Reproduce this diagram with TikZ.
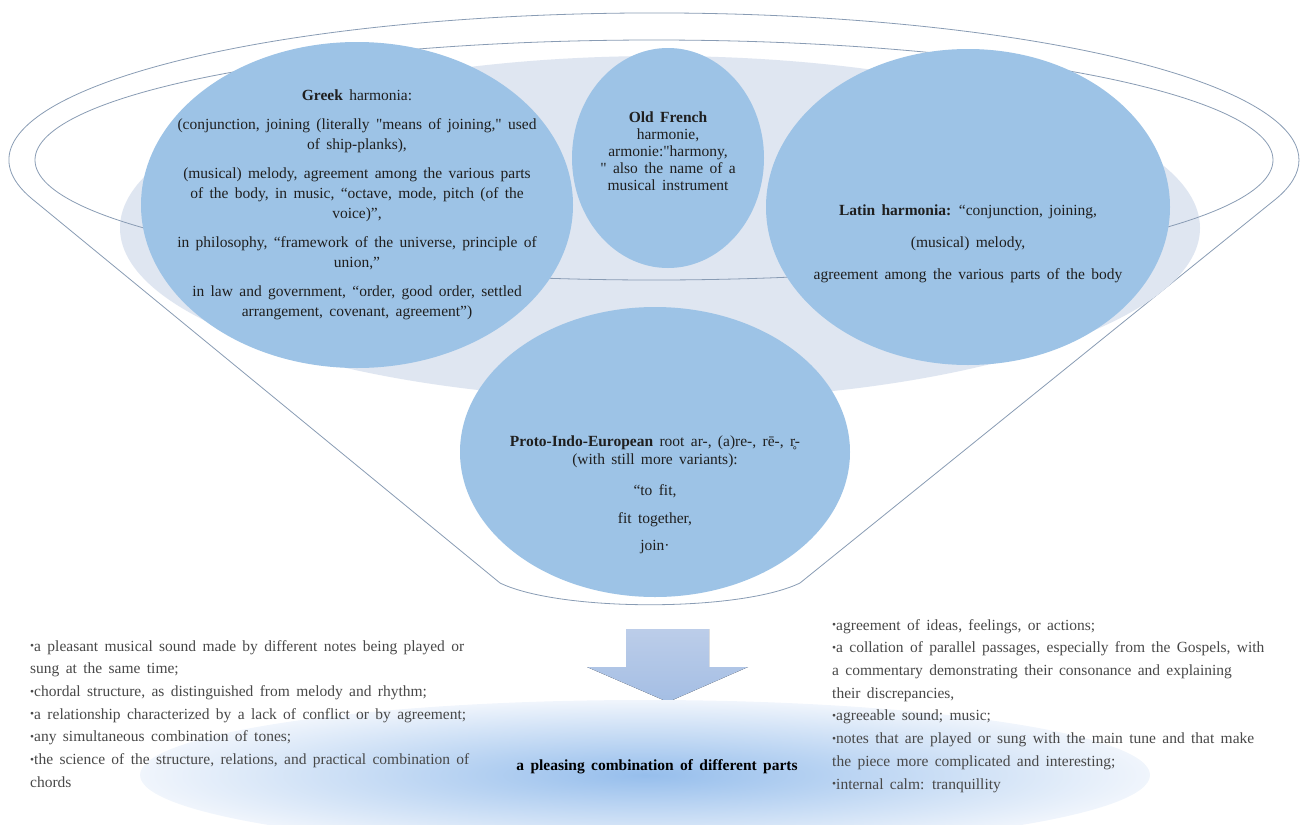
\documentclass[tikz,border=0pt]{standalone}
\usepackage{fontspec}
\setmainfont{Liberation Serif}[Ligatures=TeXOff]
\usetikzlibrary{shapes.geometric}

\definecolor{bubble}{RGB}{157,195,230}
\definecolor{funneltop}{RGB}{223,230,241}
\definecolor{rimline}{RGB}{137,156,180}
\definecolor{arrowtop}{RGB}{188,205,233}
\definecolor{arrowbot}{RGB}{164,190,228}
\definecolor{glowcore}{RGB}{150,190,236}
\definecolor{glowrim}{RGB}{240,245,252}
\definecolor{listtext}{RGB}{72,72,72}

% font size, line skip and the wide word spaces of the original
\newcommand\harmfont[2]{\fontsize{#1}{#2}\selectfont\spaceskip=0.41em plus 0.1em\relax}
\newcommand\itm{{\fontsize{11.5}{11.5}\selectfont\raisebox{1.5pt}{•}}}

\tikzset{
  bubble/.style={ellipse, fill=bubble, draw=none, inner sep=0pt},
  bubbletext/.style={align=center, text=black!88, inner sep=0pt},
  listnode/.style={align=left, anchor=north west, text=listtext, inner sep=0pt,
    font=\harmfont{15.5}{22.7}},
  rim/.style={draw=rimline, line width=0.8pt},
}

\begin{document}
\begin{tikzpicture}[x=1pt, y=-1pt]
  \useasboundingbox (0,0) rectangle (1302,825);

  % funnel body and rim
  \draw[rim, fill=white] (32.2,199) arc[start angle=195.4, end angle=-15.4, x radius=645pt, y radius=147pt]
    -- (800,583) .. controls (740,612) and (560,612) .. (500,583) -- cycle;
  \fill[funneltop] (660,228) ellipse[x radius=540pt, y radius=172pt];
  \draw[rim] (654,160) ellipse[x radius=619pt, y radius=120pt];

  % sources
  \node[bubble, minimum width=432pt, minimum height=326pt] (greek) at (357,205) {};
  \node[bubble, minimum width=404pt, minimum height=316pt] (latin) at (968,207) {};
  \node[bubble, minimum width=192pt, minimum height=220pt] (oldfrench) at (668,158) {};
  \node[bubble, minimum width=390pt, minimum height=290pt] (pie) at (655,452) {};

  \node[bubbletext, font=\harmfont{15.5}{20}] (greektext) at (greek.center) {%
    \textbf{Greek} harmonia:\\[9pt]
    (conjunction, joining (literally "means of joining," used\\
    of ship-planks),\\[9pt]
    (musical) melody, agreement among the various parts\\
    of the body, in music, “octave, mode, pitch (of the\\
    voice)”,\\[9pt]
    in philosophy, “framework of the universe, principle of\\
    union,”\\[9pt]
    in law and government, “order, good order, settled\\
    arrangement, covenant, agreement”)};
  \node[bubbletext, font=\harmfont{15.5}{17}, yshift=7pt] (oldfrenchtext) at (oldfrench.center) {%
    \textbf{Old French}\\
    harmonie,\\
    armonie:"harmony,\\
    " also the name of a\\
    musical instrument};
  \node[bubbletext, font=\harmfont{15.5}{18}, yshift=-37pt] (latintext) at (latin.center) {%
    \textbf{Latin harmonia:} “conjunction, joining,\\[14pt]
    (musical) melody,\\[14pt]
    agreement among the various parts of the body};
  \node[bubbletext, font=\harmfont{15.5}{18}, yshift=-43pt] (pietext) at (pie.center) {%
    \textbf{Proto-Indo-European} root ar-, (a)re-, rē-, r̥-\\
    (with still more variants):\\[13pt]
    “to fit,\\[10pt]
    fit together,\\[9pt]
    join·};

  % result
  \fill[top color=arrowtop, bottom color=arrowbot]
    (626,629) -- (709,629) -- (709,667) -- (748,667) -- (668,702) -- (587,667) -- (626,667) -- cycle;
  \node[ellipse, inner sep=0pt, minimum width=1010pt, minimum height=150pt,
    inner color=glowcore, outer color=glowrim] (glow) at (645,775) {};
  \node[font=\harmfont{15.5}{17}\bfseries, inner sep=0pt] (result) at (657,767)
    {a pleasing combination of different parts};

  \node[listnode] (leftlist) at (30,640) {%
    \itm a pleasant musical sound made by different notes being played or\\
    sung at the same time;\\
    \itm chordal structure, as distinguished from melody and rhythm;\\
    \itm a relationship characterized by a lack of conflict or by agreement;\\
    \itm any simultaneous combination of tones;\\
    \itm the science of the structure, relations, and practical combination of\\
    chords};
  \node[listnode] (rightlist) at (832,619) {%
    \itm agreement of ideas, feelings, or actions;\\
    \itm a collation of parallel passages, especially from the Gospels, with\\
    a commentary demonstrating their consonance and explaining\\
    their discrepancies,\\
    \itm agreeable sound; music;\\
    \itm notes that are played or sung with the main tune and that make\\
    the piece more complicated and interesting;\\
    \itm internal calm: tranquillity};
\end{tikzpicture}
\end{document}
